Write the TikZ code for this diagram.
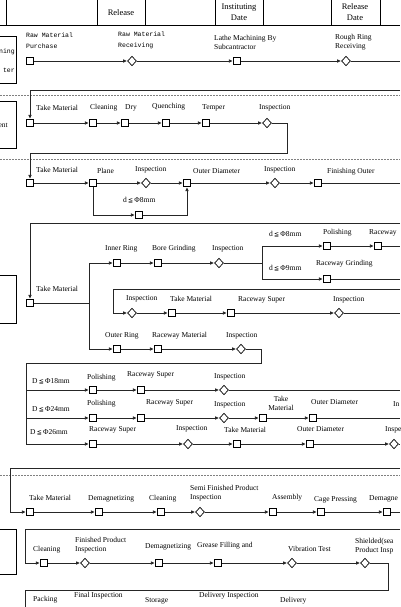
\documentclass[tikz,border=0pt]{standalone}
\usepackage{fontspec}
\setmainfont{Liberation Serif}
\newfontfamily\monof{Liberation Mono}
\newfontfamily\symf{DejaVu Sans}
\newcommand{\leqq}{{\symf\fontsize{6}{6}\selectfont ≦}}
\usetikzlibrary{shapes.geometric,arrows.meta}
\tikzset{
 sq/.style={draw, fill=white, minimum size=7.5pt, inner sep=0pt, line width=0.7pt},
 dia/.style={diamond, draw, fill=white, minimum width=9pt, minimum height=9.5pt, inner sep=0pt, line width=0.7pt},
 lbl/.style={anchor=west, inner sep=0pt, font=\fontsize{7.5}{9}\selectfont, align=left},
 mlbl/.style={anchor=west, inner sep=0pt, font=\monof\fontsize{6.5}{10.5}\selectfont, align=left},
 hdr/.style={inner sep=0pt, font=\fontsize{8.5}{11}\selectfont, align=center},
 flow/.style={line width=0.75pt, draw=black!85},
 arr/.style={flow, -{Latex[length=4pt,width=3.6pt]}},
 sep/.style={draw=gray, line width=0.6pt, dash pattern=on 2pt off 1pt},
 frame/.style={draw, line width=0.8pt},
}
\begin{document}
\begin{tikzpicture}[x=1pt,y=-1pt]
\useasboundingbox (0,0) rectangle (400,607);
% header
\draw[frame] (0,25) -- (400,25);
\foreach \x in {6,97,145,215,263,331,380} \draw[frame] (\x,0) -- (\x,25);
\node[hdr] (h1) at (121,13) {Release};
\node[hdr] (h2) at (239,12.5) {Instituting\\Date};
\node[hdr] (h3) at (355,12.5) {Release\\Date};
% separators
\draw[sep] (0,95) -- (400,95);
\draw[sep] (0,159) -- (400,159);
\draw[sep] (0,475) -- (400,475);
% left boxes
\draw[frame] (-1,36) rectangle (16,83);
\node[mlbl,anchor=east] (bx1a) at (15,52) {ning};
\node[mlbl,anchor=east] (bx1b) at (15,70) {ter};
\draw[frame] (-1,101) rectangle (16,148);
\node[lbl,anchor=east] (bx2a) at (8,125) {ent};
\draw[frame] (-1,275) rectangle (16,323);
\draw[frame] (-1,529) rectangle (16,574);

% ---------- Row 1
\node[sq] (a1) at (30,61) {};
\node[dia] (a2) at (132,61) {};
\node[sq] (a3) at (237,61) {};
\node[dia] (a4) at (346,61) {};
\coordinate (a5) at (400,61);
\draw[arr] (a1) -- (a2);
\draw[arr] (a2) -- (a3);
\draw[arr] (a3) -- (a4);
\draw[flow] (a4) -- (a5);
\node[mlbl] (la1) at (26,40.5) {Raw Material\\Purchase};
\node[mlbl] (la2) at (118,40.5) {Raw Material\\Receiving};
\node[lbl] (la3) at (214,42.5) {Lathe Machining By\\Subcantractor};
\node[lbl] (la4) at (335,42.5) {Rough Ring\\Receiving};

% ---------- Row 2
\coordinate (b0a) at (400,90);
\coordinate (b0b) at (30,90);
\node[sq] (b1) at (30,123) {};
\node[sq] (b2) at (93,123) {};
\node[sq] (b3) at (125,123) {};
\node[sq] (b4) at (166,123) {};
\node[sq] (b5) at (206,123) {};
\node[dia] (b6) at (267,123) {};
\draw[arr] (b0a) -- (b0b) -- (b1);
\draw[arr] (b1) -- (b2);
\draw[arr] (b2) -- (b3);
\draw[arr] (b3) -- (b4);
\draw[arr] (b4) -- (b5);
\draw[arr] (b5) -- (b6);
\node[lbl] (lb1) at (36,108) {Take Material};
\node[lbl] (lb2) at (90,108) {Cleaning};
\node[lbl] (lb3) at (125,108) {Dry};
\node[lbl] (lb4) at (152,107) {Quenching};
\node[lbl] (lb5) at (202,108) {Temper};
\node[lbl] (lb6) at (259,108) {Inspection};
\coordinate (b7) at (287,123);
\coordinate (b8) at (287,153);
\coordinate (b9) at (30,153);

% ---------- Row 3
\node[sq] (c1) at (30,183) {};
\node[sq] (c2) at (93,183) {};
\node[dia] (c3) at (146,183) {};
\node[sq] (c4) at (187,183) {};
\node[dia] (c5) at (275,183) {};
\node[sq] (c6) at (318,183) {};
\coordinate (c8) at (400,183);
\node[sq] (c7) at (139,215) {};
\draw[arr] (b6) -- (b7) -- (b8) -- (b9) -- (c1);
\draw[arr] (c1) -- (c2);
\draw[arr] (c2) -- (c3);
\draw[arr] (c3) -- (c4);
\draw[arr] (c4) -- (c5);
\draw[arr] (c5) -- (c6);
\draw[flow] (c6) -- (c8);
\draw[arr] (c2) |- (c7);
\draw[arr] (c7) -| (c4);
\node[lbl] (lc1) at (36,170) {Take Material};
\node[lbl] (lc2) at (97,171) {Plane};
\node[lbl] (lc3) at (135,170) {Inspection};
\node[lbl] (lc4) at (193,171) {Outer Diameter};
\node[lbl] (lc5) at (264,170) {Inspection};
\node[lbl] (lc6) at (327,172) {Finishing Outer};
\node[lbl] (lc7) at (123,200) {d\,\leqq\,Φ8mm};

% ---------- Row 4
\coordinate (d0a) at (400,223);
\coordinate (d0b) at (30,223);
\node[sq] (d1) at (30,303) {};
\draw[arr] (d0a) -- (d0b) -- (d1);
\coordinate (j1) at (89,303);
\coordinate (j1t) at (89,263);
\coordinate (j1b) at (89,349);
\draw[flow] (d1) -- (j1);
\draw[flow] (j1t) -- (j1b);
\node[lbl] (ld1) at (36,289) {Take Material};
% inner ring branch
\node[sq] (e1) at (117,263) {};
\node[sq] (e2) at (158,263) {};
\node[dia] (e3) at (219,263) {};
\coordinate (j2) at (262,263);
\coordinate (j2t) at (262,246);
\coordinate (j2b) at (262,279);
\node[sq] (e4) at (327,246) {};
\node[sq] (e5) at (378,246) {};
\coordinate (e5x) at (400,246);
\node[sq] (e6) at (327,279) {};
\coordinate (e6x) at (400,279);
\draw[arr] (j1t) -- (e1);
\draw[arr] (e1) -- (e2);
\draw[arr] (e2) -- (e3);
\draw[flow] (e3) -- (j2);
\draw[flow] (j2t) -- (j2b);
\draw[arr] (j2t) -- (e4);
\draw[arr] (e4) -- (e5);
\draw[flow] (e5) -- (e5x);
\draw[arr] (j2b) -- (e6);
\draw[flow] (e6) -- (e6x);
\node[lbl] (le1) at (105,249) {Inner Ring};
\node[lbl] (le2) at (152,249) {Bore Grinding};
\node[lbl] (le3) at (212,249) {Inspection};
\node[lbl] (le4) at (269,234) {d\,\leqq\,Φ8mm};
\node[lbl] (le5) at (323,233) {Polishing};
\node[lbl] (le6) at (369,233) {Raceway};
\node[lbl] (le7) at (269,268) {d\,\leqq\,Φ9mm};
\node[lbl] (le8) at (316,264) {Raceway Grinding};
% return row
\coordinate (f0a) at (400,289);
\coordinate (f0b) at (113,289);
\coordinate (f0c) at (113,313);
\node[dia] (f1) at (132,313) {};
\node[sq] (f2) at (172,313) {};
\node[sq] (f3) at (231,313) {};
\node[dia] (f4) at (339,313) {};
\coordinate (f5) at (400,313);
\draw[arr] (f0a) -- (f0b) -- (f0c) -- (f1);
\draw[arr] (f1) -- (f2);
\draw[arr] (f2) -- (f3);
\draw[arr] (f3) -- (f4);
\draw[flow] (f4) -- (f5);
\node[lbl] (lf1) at (126,299) {Inspection};
\node[lbl] (lf2) at (170,299) {Take Material};
\node[lbl] (lf3) at (238,300) {Raceway Super};
\node[lbl] (lf4) at (333,300) {Inspection};
% outer ring branch
\node[sq] (g1) at (117,349) {};
\node[sq] (g2) at (158,349) {};
\node[dia] (g3) at (241,349) {};
\coordinate (g4) at (261,349);
\coordinate (g5) at (261,363);
\coordinate (g6) at (26,363);
\coordinate (g7) at (26,444);
\draw[arr] (j1b) -- (g1);
\draw[arr] (g1) -- (g2);
\draw[arr] (g2) -- (g3);
\draw[flow] (g3) -- (g4) -- (g5) -- (g6) -- (g7);
\node[lbl] (lg1) at (105,336) {Outer Ring};
\node[lbl] (lg2) at (152,336) {Raceway Material};
\node[lbl] (lg3) at (226,336) {Inspection};

% ---------- D rows
\coordinate (h0) at (26,390);
\node[sq] (h1) at (93,390) {};
\node[sq] (h2) at (141,390) {};
\node[dia] (h3) at (224,390) {};
\coordinate (h4) at (400,390);
\draw[arr] (h0) -- (h1);
\draw[arr] (h1) -- (h2);
\draw[arr] (h2) -- (h3);
\draw[flow] (h3) -- (h4);
\node[lbl] (lh0) at (32,381) {D\,\leqq\,Φ18mm};
\node[lbl] (lh1) at (87,378) {Polishing};
\node[lbl] (lh2) at (127,375) {Raceway Super};
\node[lbl] (lh3) at (214,377) {Inspection};

\coordinate (i0) at (26,418);
\node[sq] (i1) at (93,418) {};
\node[sq] (i2) at (141,418) {};
\node[dia] (i3) at (224,418) {};
\node[sq] (i4) at (263,418) {};
\node[sq] (i5) at (313,418) {};
\coordinate (i6) at (400,418);
\draw[arr] (i0) -- (i1);
\draw[arr] (i1) -- (i2);
\draw[arr] (i2) -- (i3);
\draw[arr] (i3) -- (i4);
\draw[arr] (i4) -- (i5);
\draw[flow] (i5) -- (i6);
\node[lbl] (li0) at (32,409) {D\,\leqq\,Φ24mm};
\node[lbl] (li1) at (87,404) {Polishing};
\node[lbl] (li2) at (146,403) {Raceway Super};
\node[lbl] (li3) at (214,405) {Inspection};
\node[lbl,anchor=center,align=center] (li4) at (281,403) {Take\\Material};
\node[lbl] (li5) at (311,402) {Outer Diameter};
\node[lbl] (li6) at (393,404) {In};

\node[sq] (k1) at (93,444) {};
\node[dia] (k2) at (188,444) {};
\node[sq] (k3) at (237,444) {};
\node[sq] (k4) at (310,444) {};
\node[dia] (k5) at (394,444) {};
\coordinate (k6) at (400,444);
\draw[arr] (g7) -- (k1);
\draw[arr] (k1) -- (k2);
\draw[arr] (k2) -- (k3);
\draw[arr] (k3) -- (k4);
\draw[arr] (k4) -- (k5);
\draw[flow] (k5) -- (k6);
\node[lbl] (lk0) at (30,432) {D\,\leqq\,Φ26mm};
\node[lbl] (lk1) at (89,430) {Raceway Super};
\node[lbl] (lk2) at (176,429) {Inspection};
\node[lbl] (lk3) at (224,430) {Take Material};
\node[lbl] (lk4) at (297,429) {Outer Diameter};
\node[lbl] (lk5) at (385,430) {Inspe};

% ---------- Row 5
\coordinate (m0a) at (400,468);
\coordinate (m0b) at (10,468);
\coordinate (m0c) at (10,512);
\node[sq] (m1) at (30,512) {};
\node[sq] (m2) at (99,512) {};
\node[sq] (m3) at (161,512) {};
\node[dia] (m4) at (200,512) {};
\node[sq] (m5) at (273,512) {};
\node[sq] (m6) at (321,512) {};
\node[sq] (m7) at (387,512) {};
\coordinate (m8) at (400,512);
\draw[arr] (m0a) -- (m0b) -- (m0c) -- (m1);
\draw[arr] (m1) -- (m2);
\draw[arr] (m2) -- (m3);
\draw[arr] (m3) -- (m4);
\draw[arr] (m4) -- (m5);
\draw[arr] (m5) -- (m6);
\draw[arr] (m6) -- (m7);
\draw[flow] (m7) -- (m8);
\node[lbl] (lm1) at (29,498) {Take Material};
\node[lbl] (lm2) at (88,499) {Demagnetizing};
\node[lbl] (lm3) at (149,499) {Cleaning};
\node[lbl] (lm4) at (190,493.5) {Semi Finished Product\\Inspection};
\node[lbl] (lm5) at (272,498) {Assembly};
\node[lbl] (lm6) at (314,500) {Cage Pressing};
\node[lbl] (lm7) at (369,499) {Demagne};

% ---------- Row 6
\coordinate (n0a) at (400,529);
\coordinate (n0b) at (25,529);
\coordinate (n0c) at (25,563);
\node[sq] (n1) at (44,563) {};
\node[dia] (n2) at (85,563) {};
\node[sq] (n3) at (159,563) {};
\node[sq] (n4) at (218,563) {};
\node[dia] (n5) at (292,563) {};
\node[dia] (n6) at (365,563) {};
\coordinate (n7) at (388,563);
\coordinate (n8) at (388,590);
\coordinate (n9) at (25,590);
\coordinate (n10) at (25,607);
\draw[arr] (n0a) -- (n0b) -- (n0c) -- (n1);
\draw[arr] (n1) -- (n2);
\draw[arr] (n2) -- (n3);
\draw[arr] (n3) -- (n4);
\draw[arr] (n4) -- (n5);
\draw[arr] (n5) -- (n6);
\draw[flow] (n6) -- (n7) -- (n8) -- (n9) -- (n10);
\node[lbl] (ln1) at (33,550) {Cleaning};
\node[lbl] (ln2) at (75,545) {Finished Product\\Inspection};
\node[lbl] (ln3) at (145,547) {Demagnetizing};
\node[lbl] (ln4) at (197,546) {Grease Filling and};
\node[lbl] (ln5) at (288,549) {Vibration Test};
\node[lbl] (ln6) at (355,546) {Shielded(sea\\Product Insp};

% ---------- Row 7 labels
\node[lbl] (lp1) at (33,600) {Packing};
\node[lbl] (lp2) at (74,596) {Final Inspection};
\node[lbl] (lp3) at (145,601) {Storage};
\node[lbl] (lp4) at (199,596) {Delivery Inspection};
\node[lbl] (lp5) at (280,601) {Delivery};
\end{tikzpicture}
\end{document}
